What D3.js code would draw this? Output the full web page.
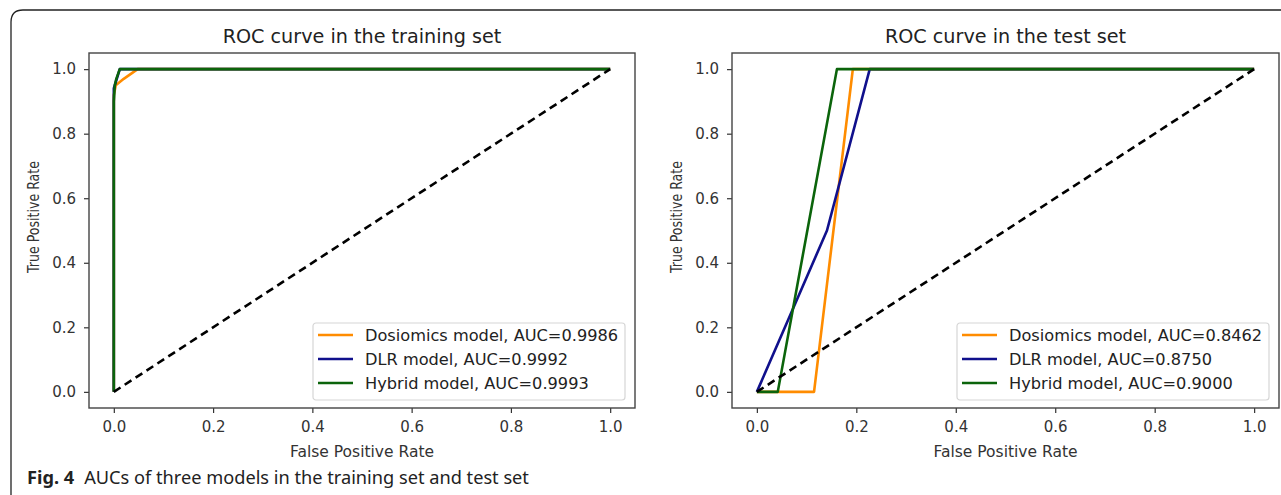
<!DOCTYPE html>
<html>
<head>
<meta charset="utf-8">
<script src="https://cdn.jsdelivr.net/npm/d3@7.9.0/dist/d3.min.js"></script>
<style>
  body { margin: 0; background: #fff; }
  svg { display: block; font-family: "DejaVu Sans", sans-serif; }
</style>
</head>
<body>
<svg id="chart" width="1281" height="495"></svg>
<script>
// model names, colours and AUC labels
const models = ['Dosiomics model', 'DLR model', 'Hybrid model'];
const colors = ['#ff8c00', '#10108c', '#0b640b'];
const trainAUC = ['0.9986', '0.9992', '0.9993'];
const testAUC = ['0.8462', '0.8750', '0.9000'];

// training set ROC points
const trainDosFpr = [0, 0, 0.004, 0.02, 0.048, 1];
const trainDosTpr = [0, 0.92, 0.95, 0.97, 1, 1];
const trainDlrFpr = [0, 0, 0.012, 1];
const trainDlrTpr = [0, 0.94, 1, 1];
const trainHybFpr = [0, 0, 0.002, 0.005, 0.012, 1];
const trainHybTpr = [0, 0.9, 0.95, 0.97, 1, 1];

// test set ROC points
const testDosFpr = [0, 0.115, 0.193, 1];
const testDosTpr = [0, 0, 1, 1];
const testDlrFpr = [0, 0.141, 0.227, 1];
const testDlrTpr = [0, 0.5, 1, 1];
const testHybFpr = [0, 0.042, 0.161, 1];
const testHybTpr = [0, 0, 1, 1];

const chanceFpr = [0, 1];
const chanceTpr = [0, 1];

const ticks = [0, 0.2, 0.4, 0.6, 0.8, 1.0];

const zip = (xs, ys) => xs.map((x, i) => [x, ys[i]]);

const svg = d3.select('#chart');

// page frame (top + left border with rounded corner)
svg.append('path')
  .attr('d', 'M11,495 L11,22 Q11,10 23,10 L1281,10')
  .attr('fill', 'none')
  .attr('stroke', '#222')
  .attr('stroke-width', 1.3);

const panels = [
  {
    title: 'ROC curve in the training set', left: 89, right: 635, auc: trainAUC,
    series: [zip(trainDosFpr, trainDosTpr), zip(trainDlrFpr, trainDlrTpr), zip(trainHybFpr, trainHybTpr)]
  },
  {
    title: 'ROC curve in the test set', left: 732, right: 1279, auc: testAUC,
    series: [zip(testDosFpr, testDosTpr), zip(testDlrFpr, testDlrTpr), zip(testHybFpr, testHybTpr)]
  }
];

const plotTop = 53, plotBottom = 408;

panels.forEach((p) => {
  const x = d3.scaleLinear().domain([-0.05, 1.05]).range([p.left, p.right]);
  const y = d3.scaleLinear().domain([-0.05, 1.05]).range([plotBottom, plotTop]);
  const g = svg.append('g');

  const line = d3.line().x(d => x(d[0])).y(d => y(d[1]));

  // curves
  p.series.forEach((s, i) => {
    g.append('path')
      .datum(s)
      .attr('d', line)
      .attr('fill', 'none')
      .attr('stroke', colors[i])
      .attr('stroke-width', 2.6)
      .attr('stroke-linejoin', 'round');
  });

  // chance diagonal
  g.append('path')
    .datum(zip(chanceFpr, chanceTpr))
    .attr('d', line)
    .attr('fill', 'none')
    .attr('stroke', '#000')
    .attr('stroke-width', 2.6)
    .attr('stroke-dasharray', '8,5');

  // axes
  const xAxis = g.append('g')
    .attr('transform', `translate(0,${plotBottom})`)
    .call(d3.axisBottom(x).tickValues(ticks).tickFormat(d3.format('.1f')).tickSize(5).tickPadding(8));
  const yAxis = g.append('g')
    .attr('transform', `translate(${p.left},0)`)
    .call(d3.axisLeft(y).tickValues(ticks).tickFormat(d3.format('.1f')).tickSize(5).tickPadding(8));
  [xAxis, yAxis].forEach(a => {
    a.select('.domain').remove();
    a.selectAll('line').attr('stroke', '#333').attr('stroke-width', 1.2);
    a.selectAll('text').attr('fill', '#333').style('font-size', '15px')
      .style('font-family', '"DejaVu Sans", sans-serif');
  });

  // plot frame
  g.append('rect')
    .attr('x', p.left).attr('y', plotTop)
    .attr('width', p.right - p.left).attr('height', plotBottom - plotTop)
    .attr('fill', 'none').attr('stroke', '#444').attr('stroke-width', 1.4);

  // title
  g.append('text')
    .attr('x', (p.left + p.right) / 2).attr('y', 43)
    .attr('text-anchor', 'middle')
    .style('font-size', '19.2px').attr('fill', '#222')
    .text(p.title);

  // axis labels
  g.append('text')
    .attr('x', (p.left + p.right) / 2).attr('y', 457)
    .attr('text-anchor', 'middle')
    .style('font-size', '15.5px').attr('fill', '#333')
    .text('False Positive Rate');
  g.append('text')
    .attr('transform', `translate(${p.left - 55.5},217) rotate(-90)`)
    .attr('text-anchor', 'middle').attr('dy', '0.35em')
    .attr('textLength', 112).attr('lengthAdjust', 'spacingAndGlyphs')
    .style('font-size', '15px').attr('fill', '#333')
    .text('True Positive Rate');

  // legend
  const lw = 312, lh = 77;
  const lx = p.right - 10 - lw, ly = plotBottom - 8 - lh;
  const lg = g.append('g').attr('transform', `translate(${lx},${ly})`);
  lg.append('rect')
    .attr('width', lw).attr('height', lh).attr('rx', 3)
    .attr('fill', '#fff').attr('fill-opacity', 0.85)
    .attr('stroke', '#d6d6d6').attr('stroke-width', 1.2);
  models.forEach((m, i) => {
    const yy = 12 + i * 24;
    lg.append('line')
      .attr('x1', 5).attr('x2', 40).attr('y1', yy).attr('y2', yy)
      .attr('stroke', colors[i]).attr('stroke-width', 2.6);
    lg.append('text')
      .attr('x', 52).attr('y', yy).attr('dy', '0.35em')
      .style('font-size', '16.2px').attr('fill', '#222')
      .text(`${m}, AUC=${p.auc[i]}`);
  });
});

// caption
const cap = svg.append('text')
  .attr('x', 27).attr('y', 484)
  .style('font-family', '"Noto Sans", sans-serif')
  .style('font-size', '18.2px').attr('fill', '#222');
cap.append('tspan').attr('font-weight', 'bold').text('Fig. 4');
cap.append('tspan').attr('dx', 10).text('AUCs of three models in the training set and test set');
</script>
</body>
</html>
